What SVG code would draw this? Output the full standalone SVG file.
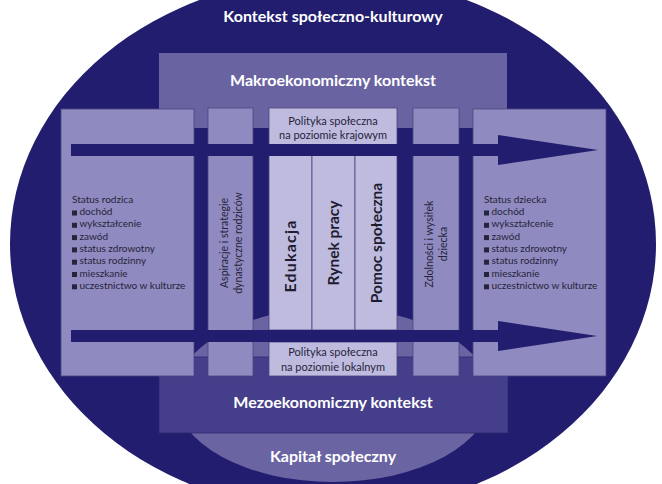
<svg xmlns="http://www.w3.org/2000/svg" width="662" height="484" viewBox="0 0 662 484">
<style>
text{font-family:Lato,"Open Sans","Liberation Sans",sans-serif}
.title{font-weight:700;font-size:16px;fill:#ffffff;text-anchor:middle}
.col{fill:#8f8abf;stroke:#4a4680;stroke-width:0.8}
.lite{fill:#bebbde;stroke:#4a4680;stroke-width:0.8}
.small{font-size:10px;fill:#26243c}
.pol{font-size:11px;fill:#26243c;text-anchor:middle}
.vert{font-size:10.5px;fill:#26243c;text-anchor:middle}
.big{font-size:15.5px;font-weight:700;fill:#1e1c30;text-anchor:middle}
.arrow{fill:#221d6e}
.bul{fill:#26243c}
</style>
<g id="kontekst-spoleczno-kulturowy">
<ellipse cx="333" cy="244" rx="323" ry="268" fill="#221d6e"/>
<text class="title" x="333" y="22">Kontekst społeczno-kulturowy</text>
</g>
<g id="kapital-spoleczny">
<ellipse cx="333" cy="395" rx="158" ry="87" fill="#6b64a3"/>
<text class="title" x="333" y="462">Kapitał społeczny</text>
</g>
<g id="makro">
<rect x="159" y="53" width="348" height="75" fill="#6a63a2"/>
<text class="title" x="333" y="86">Makroekonomiczny kontekst</text>
</g>
<g id="mezo">
<rect x="159" y="357" width="349" height="76" fill="#453e8a" stroke="#2e2970" stroke-width="0.8"/>
<text class="title" x="333" y="408">Mezoekonomiczny kontekst</text>
</g>
<g id="status-rodzica">
<rect class="col" x="61" y="109" width="133" height="267"/>
<text class="small" x="72" y="202.5">Status rodzica</text>
<rect class="bul" x="72" y="210.5" width="5" height="5"/><text class="small" x="79.5" y="215">dochód</text>
<rect class="bul" x="72" y="222.8" width="5" height="5"/><text class="small" x="79.5" y="227.3">wykształcenie</text>
<rect class="bul" x="72" y="235.1" width="5" height="5"/><text class="small" x="79.5" y="239.6">zawód</text>
<rect class="bul" x="72" y="247.4" width="5" height="5"/><text class="small" x="79.5" y="251.9">status zdrowotny</text>
<rect class="bul" x="72" y="259.7" width="5" height="5"/><text class="small" x="79.5" y="264.2">status rodzinny</text>
<rect class="bul" x="72" y="272" width="5" height="5"/><text class="small" x="79.5" y="276.5">mieszkanie</text>
<rect class="bul" x="72" y="284.3" width="5" height="5"/><text class="small" x="79.5" y="288.8">uczestnictwo w kulturze</text>
</g>
<g id="aspiracje">
<rect class="col" x="208" y="108" width="45" height="268"/>
<text class="vert" transform="translate(228,243) rotate(-90)">Aspiracje i strategie</text>
<text class="vert" transform="translate(242,243) rotate(-90)">dynastyczne rodziców</text>
</g>
<g id="polityka-krajowa">
<rect class="lite" x="269" y="108" width="128" height="37"/>
<text class="pol" x="333" y="125">Polityka społeczna</text>
<text class="pol" x="333" y="139">na poziomie krajowym</text>
</g>
<g id="edukacja">
<rect class="lite" x="269" y="155" width="43" height="175"/>
<text class="big" transform="translate(296,256) rotate(-90)" style="font-size:16px;letter-spacing:1.2px">Edukacja</text>
</g>
<g id="rynek-pracy">
<rect class="lite" x="312" y="155" width="43" height="175"/>
<text class="big" transform="translate(339,243) rotate(-90)">Rynek pracy</text>
</g>
<g id="pomoc-spoleczna">
<rect class="lite" x="355" y="155" width="42" height="175"/>
<text class="big" transform="translate(382,243) rotate(-90)">Pomoc społeczna</text>
</g>
<g id="polityka-lokalna">
<rect class="lite" x="269" y="342" width="128" height="34"/>
<text class="pol" x="333" y="356">Polityka społeczna</text>
<text class="pol" x="333" y="371">na poziomie lokalnym</text>
</g>
<g id="zdolnosci">
<rect class="col" x="413" y="108" width="46" height="268"/>
<text class="vert" transform="translate(433,244) rotate(-90)">Zdolności i wysiłek</text>
<text class="vert" transform="translate(447,244) rotate(-90)">dziecka</text>
</g>
<g id="status-dziecka">
<rect class="col" x="473" y="109" width="133" height="267"/>
<text class="small" x="484" y="202.5">Status dziecka</text>
<rect class="bul" x="484" y="210.5" width="5" height="5"/><text class="small" x="491.5" y="215">dochód</text>
<rect class="bul" x="484" y="222.8" width="5" height="5"/><text class="small" x="491.5" y="227.3">wykształcenie</text>
<rect class="bul" x="484" y="235.1" width="5" height="5"/><text class="small" x="491.5" y="239.6">zawód</text>
<rect class="bul" x="484" y="247.4" width="5" height="5"/><text class="small" x="491.5" y="251.9">status zdrowotny</text>
<rect class="bul" x="484" y="259.7" width="5" height="5"/><text class="small" x="491.5" y="264.2">status rodzinny</text>
<rect class="bul" x="484" y="272" width="5" height="5"/><text class="small" x="491.5" y="276.5">mieszkanie</text>
<rect class="bul" x="484" y="284.3" width="5" height="5"/><text class="small" x="491.5" y="288.8">uczestnictwo w kulturze</text>
</g>
<g id="connectors">
<polygon class="arrow" points="71,144 498,144 498,135 598,150 498,165 498,156 71,156"/>
<polygon class="arrow" points="71,330 498,330 498,321 597,336 498,351 498,342 71,342"/>
</g>
</svg>
